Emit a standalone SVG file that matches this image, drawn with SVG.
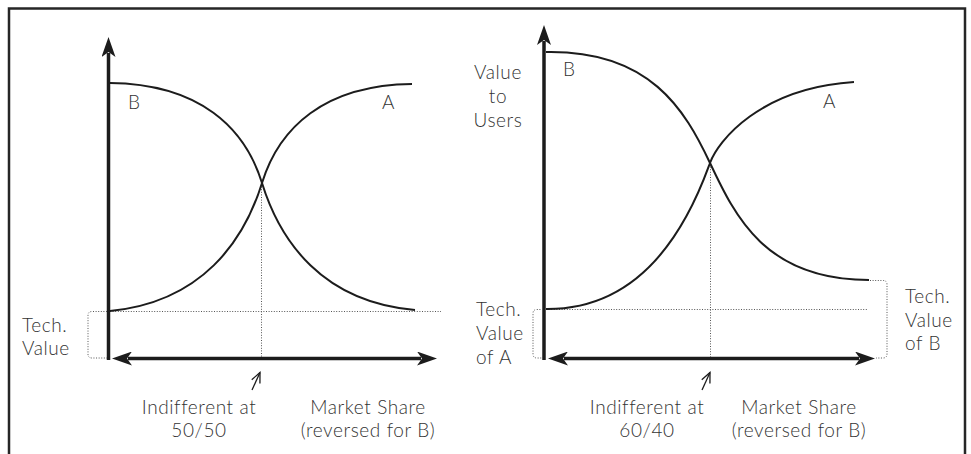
<svg xmlns="http://www.w3.org/2000/svg" width="971" height="454" viewBox="0 0 971 454">
<style>
.frame{fill:none;stroke:#262626;stroke-width:2.5}
.axis{fill:none;stroke:#1c1c1c;stroke-width:3.5}
.curve{fill:none;stroke:#1c1c1c;stroke-width:2}
.dot{fill:none;stroke:#555;stroke-width:1;stroke-dasharray:1 1.6}
.pointer{fill:none;stroke:#1c1c1c;stroke-width:1.3}
text{font-family:Lato,"Open Sans","Liberation Sans",sans-serif;font-weight:300;font-size:19px;fill:#333;letter-spacing:0.6px}
.c{text-anchor:middle}
</style>
<defs>
<marker id="head" markerUnits="userSpaceOnUse" viewBox="0 0 20 14" markerWidth="20" markerHeight="14" refX="4" refY="7" orient="auto-start-reverse">
<path d="M0,0 L20,7 L0,14 L5,7 Z" fill="#1c1c1c"/>
</marker>
<marker id="open" markerUnits="userSpaceOnUse" viewBox="-12 -6 14 12" markerWidth="14" markerHeight="12" refX="0" refY="0" orient="auto">
<path d="M-10,-4.5 L0,0 L-10,4.5" fill="none" stroke="#1c1c1c" stroke-width="1.3"/>
</marker>
</defs>
<path class="frame" d="M9,455 V8.5 H965 V455"/>

<g id="connectors">
<line class="axis" x1="108.5" y1="360" x2="108.5" y2="53" marker-end="url(#head)"/>
<line class="axis" x1="128" y1="358.5" x2="421" y2="358.5" marker-start="url(#head)" marker-end="url(#head)"/>
<line class="axis" x1="544" y1="360" x2="544" y2="41" marker-end="url(#head)"/>
<line class="axis" x1="564" y1="358.5" x2="859" y2="358.5" marker-start="url(#head)" marker-end="url(#head)"/>
<line class="dot" x1="261.5" y1="184" x2="261.5" y2="357"/>
<line class="dot" x1="110" y1="311.5" x2="441" y2="311.5"/>
<path class="dot" d="M107,311.5 H92 Q88,311.5 88,315.5 V354 Q88,358 92,358 H107"/>
<line class="dot" x1="710.5" y1="164" x2="710.5" y2="357"/>
<line class="dot" x1="546" y1="309.5" x2="868" y2="309.5"/>
<path class="dot" d="M543,309.5 H537 Q533,309.5 533,313.5 V354 Q533,358 537,358 H543"/>
<path class="dot" d="M870,280.5 H883 Q887,280.5 887,284.5 V354 Q887,358 883,358 H876"/>
<line class="pointer" x1="252" y1="390" x2="260" y2="372.5" marker-end="url(#open)"/>
<line class="pointer" x1="702" y1="390" x2="710" y2="372.5" marker-end="url(#open)"/>
</g>

<g id="left-chart">
<g id="left-curve-B"><path class="curve" d="M110,83 C200,84 245,128 262,183 C280,241 322,302 415,310"/><text x="128" y="109">B</text></g>
<g id="left-curve-A"><path class="curve" d="M110,311 C202,302 244,241 262,183 C279,128 324,85 412,84"/><text x="382" y="109">A</text></g>
<g id="left-tech"><text x="22" y="332">Tech.</text><text x="22" y="355">Value</text></g>
<g id="left-indiff"><text class="c" x="199" y="414">Indifferent at</text><text class="c" x="199" y="437">50/50</text></g>
<g id="left-share"><text class="c" x="368" y="414">Market Share</text><text class="c" x="368" y="437">(reversed for B)</text></g>
</g>

<g id="right-chart">
<g id="right-ylabel"><text class="c" x="498" y="79">Value</text><text class="c" x="498" y="103">to</text><text class="c" x="498" y="127">Users</text></g>
<g id="right-curve-B"><path class="curve" d="M546,52 C650,50 685,110 710,163 C735,216 765,280 869,280"/><text x="563" y="76">B</text></g>
<g id="right-curve-A"><path class="curve" d="M546,309 C660,310 700,190 710,163 C718,141 760,88 854,82"/><text x="823" y="108">A</text></g>
<g id="right-techA"><text x="476" y="316">Tech.</text><text x="476" y="340">Value</text><text x="476" y="364">of A</text></g>
<g id="right-techB"><text x="905" y="303">Tech.</text><text x="905" y="327">Value</text><text x="905" y="350">of B</text></g>
<g id="right-indiff"><text class="c" x="647" y="414">Indifferent at</text><text class="c" x="647" y="437">60/40</text></g>
<g id="right-share"><text class="c" x="799" y="414">Market Share</text><text class="c" x="799" y="437">(reversed for B)</text></g>
</g>
</svg>
